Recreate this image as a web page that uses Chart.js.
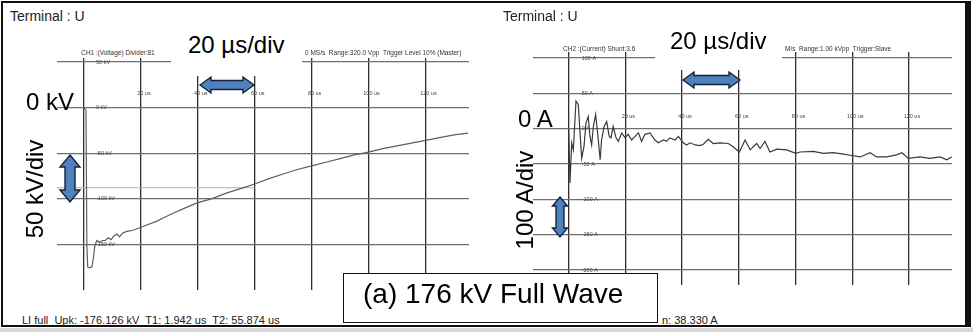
<!DOCTYPE html>
<html>
<head>
<meta charset="utf-8">
<script src="https://cdn.jsdelivr.net/npm/chart.js@4/dist/chart.umd.min.js"></script>
<style>
  html, body { margin: 0; padding: 0; background: #fff; }
  #fig { position: relative; width: 973px; height: 332px; overflow: hidden; background: #fff;
         font-family: Arial, "Liberation Sans", sans-serif; }
  .frame { position: absolute; left: 1px; top: 1px; width: 962px; height: 322px;
           border: 2px solid #111; border-right-width: 6px; }
  .bottomband { position: absolute; left: 0; top: 328px; width: 973px; height: 4px; background: #d8d8d8; }
  .plot { position: absolute; }
  .t { position: absolute; white-space: nowrap; color: #000; line-height: 1; }
  .small { color: #333; }
  .rot { transform: translate(-50%, -50%) rotate(-90deg); }
  .mask { position: absolute; background: #fff; }
  .caption { position: absolute; left: 343px; top: 273px; width: 313px; height: 48px;
             border: 1.5px solid #111; background: #fff; }
  svg { position: absolute; left: 0; top: 0; }
</style>
</head>
<body>
<div id="fig">
  <div class="frame"></div>
  <div class="bottomband"></div>

  <div class="plot" style="left:57px;top:58px;width:412px;height:232px;">
    <canvas id="voltChart" width="412" height="232"></canvas>
  </div>
  <div class="plot" style="left:533px;top:52px;width:419px;height:233px;">
    <canvas id="currChart" width="419" height="233"></canvas>
  </div>

  <!-- white backing behind the time-scale notes -->
  <div class="mask" style="left:171px;top:22px;width:131px;height:54px;"></div>
  <div class="mask" style="left:655px;top:18px;width:127px;height:52px;"></div>

  <div class="t" style="left:10px;top:9px;font-size:14px;color:#222;">Terminal : U</div>
  <div class="t" style="left:503px;top:9px;font-size:14px;color:#222;">Terminal : U</div>

  <div class="t" style="left:188px;top:33px;font-size:24px;">20 µs/div</div>
  <div class="t" style="left:670px;top:29px;font-size:24px;">20 µs/div</div>

  <div class="t" style="left:26px;top:90px;font-size:24px;">0 kV</div>
  <div class="t" style="left:518px;top:107px;font-size:24px;">0 A</div>

  <div class="t rot" style="left:35px;top:189px;font-size:24px;">50 kV/div</div>
  <div class="t rot" style="left:525px;top:200px;font-size:24px;">100 A/div</div>

  <!-- scope header lines -->
  <div class="t small" style="left:81px;top:50px;font-size:6.5px;">CH1 :(Voltage) Divider:81</div>
  <div class="t small" style="left:305px;top:50px;font-size:6.5px;">0 MS/s&nbsp; Range:320.0 Vpp&nbsp; Trigger Level 10% (Master)</div>
  <div class="t small" style="left:563px;top:46px;font-size:6.5px;">CH2 :(Current) Shunt:3.6</div>
  <div class="t small" style="left:785px;top:46px;font-size:6.5px;">M/s&nbsp; Range:1.00 kVpp&nbsp; Trigger:Slave</div>

  <div class="t small" style="left:22px;top:315px;font-size:11px;color:#222;">LI full&nbsp; Upk: -176.126 kV&nbsp; T1: 1.942 us&nbsp; T2: 55.874 us</div>
  <div class="t small" style="left:662px;top:315px;font-size:11px;color:#222;">n: 38.330 A</div>

  <svg width="973" height="332" viewBox="0 0 973 332">
    <g fill="#4F81BD" stroke="#14213d" stroke-width="1.4" stroke-linejoin="miter">
      <!-- horizontal double arrows -->
      <polygon points="200,85 211,77 211,80.5 243,80.5 243,77 254,85 243,93 243,89.5 211,89.5 211,93"/>
      <polygon points="683,80 694,72 694,75.5 729,75.5 729,72 740,80 729,88 729,84.5 694,84.5 694,88"/>
      <!-- vertical double arrows -->
      <polygon points="70,155 80,167 75,167 75,190 80,190 70,202 60,190 65,190 65,167 60,167"/>
      <polygon points="560,197 567.5,206 564,206 564,228 567.5,228 560,237 552.5,228 556,228 556,206 552.5,206"/>
    </g>
  </svg>

  <div class="caption"></div>
  <div class="t" style="left:363px;top:280px;font-size:28px;">(a) 176 kV Full Wave</div>
</div>

<script>
// Time divisions (µs) shared by both records
const timeTicks = [0, 20, 40, 60, 80, 100, 120];
// Vertical divisions
const voltTicks = [50, 0, -50, -100, -150];          // kV
const currTicks = [100, 50, 0, -50, -100, -150, -200]; // A

// Voltage record: lightning impulse, full wave
const peakKV = -176.126;
const voltTime = [0, 0.7, 1.0, 1.3, 1.942, 2.8, 3.3, 3.8, 4.5, 5.5,
                  6.5, 7.5, 8.5, 9.5, 10.5, 11.5, 12.5, 13.5, 15, 17,
                  19.6, 22, 25.5, 28, 31.3, 35, 39.5, 45, 50, 55,
                  60, 65, 70, 75, 80, 85, 90, 95, 100, 105,
                  110, 115, 120, 125, 130, 135];
const voltKV = [0, -3, -150, -175, peakKV, -175, -165, -152, -146, -148,
                -146, -146, -143, -145, -141, -139, -142, -138, -136, -135,
                -132, -129, -125, -121, -116, -111, -105, -100, -94, -89,
                -84, -78, -73, -68, -64, -60, -56, -52, -49, -45,
                -42, -39, -36, -33, -30, -28];
// Half-value marker level
const halfKV = peakKV / 2;
const halfSpan = [-9.5, 60];

// Current record
const currTime = [0, 0.46, 1.05, 1.64, 2.57, 3.4, 4.0, 4.58, 5.4, 6.1,
                  6.9, 7.5, 8.1, 8.7, 9.5, 10.2, 11.1, 11.6, 12.5, 13.4,
                  14.3, 14.9, 15.7, 16.7, 17.5, 18.7, 19.9, 21.0, 22.2, 23.4,
                  24.6, 25.7, 26.9, 28.7, 30.4, 31.6, 33.4, 34.5, 35.7, 37.5,
                  38.7, 40.4, 41.6, 42.8, 44.6, 46.3, 47.5, 49.2, 51.0, 53.4,
                  56.3, 58.1, 60.2, 62.2, 64, 66.3, 67.5, 69.2, 71, 73.4,
                  76.9, 80.1, 81.6, 86.3, 89.8, 93.3, 96.9, 99.9, 102.8, 106.3,
                  108.6, 112.2, 115.7, 117.5, 119.8, 123.9, 127.4, 131, 133.3, 135.1];
const currA = [0, -77, -20, -30, 39, 34, -6, -42, -25, 8,
               17, -11, -23, 3, 20, -6, -44, -16, 3, 10,
               -11, -13, 3, -13, -18, -6, -13, -8, -16, -11,
               -6, -18, -8, -6, -16, -20, -16, -18, -13, -16,
               -11, -20, -23, -20, -23, -24, -22, -15, -21, -20,
               -21, -26, -33, -16, -30, -21, -28, -18, -33, -29,
               -30, -35, -33, -32, -35, -34, -36, -38, -40, -34,
               -40, -40, -37, -34, -42, -40, -42, -40, -44, -40];

const toPoints = (xs, ys) => xs.map((x, i) => ({ x, y: ys[i] }));

// Tiny scope-style labels on the graticule
const graticuleLabels = {
  id: 'graticuleLabels',
  afterDraw(chart, args, opts) {
    const { ctx, scales: { x, y } } = chart;
    ctx.save();
    ctx.fillStyle = '#444';
    ctx.font = '5.5px Arial';
    ctx.textBaseline = 'middle';
    ctx.textAlign = 'center';
    timeTicks.forEach(v => {
      if (v === 0) return;
      ctx.fillText(v + ' us', x.getPixelForValue(v) + 3, y.getPixelForValue(opts.timeLabelLevel));
    });
    ctx.textAlign = 'left';
    opts.levels.forEach(v => {
      ctx.fillText(v + ' ' + opts.unit, x.getPixelForValue(0) + opts.levelDx, y.getPixelForValue(v));
    });
    ctx.restore();
  }
};

function scopeChart(id, cfg) {
  return new Chart(document.getElementById(id), {
    type: 'line',
    data: { datasets: cfg.datasets },
    options: {
      responsive: false,
      animation: false,
      devicePixelRatio: 1,
      layout: { padding: 0, autoPadding: false },
      plugins: {
        legend: { display: false },
        tooltip: { enabled: false },
        graticuleLabels: cfg.labels
      },
      elements: { point: { radius: 0 }, line: { tension: 0 } },
      scales: {
        x: {
          type: 'linear', min: cfg.xMin, max: cfg.xMax,
          afterBuildTicks: s => { s.ticks = timeTicks.map(v => ({ value: v })); },
          ticks: { display: false },
          grid: { color: '#2f2f2f', lineWidth: 1.3, drawTicks: false },
          border: { display: false }
        },
        y: {
          type: 'linear', min: cfg.yMin, max: cfg.yMax,
          afterBuildTicks: s => { s.ticks = cfg.yTicks.map(v => ({ value: v })); },
          ticks: { display: false },
          grid: { color: '#6e6e6e', lineWidth: 1.2, drawTicks: false },
          border: { display: false }
        }
      }
    },
    plugins: [graticuleLabels]
  });
}

scopeChart('voltChart', {
  xMin: -9.49, xMax: 135.3, yMin: -200.4, yMax: 54.5,
  yTicks: voltTicks,
  labels: { levels: voltTicks, unit: 'kV', levelDx: 12, timeLabelLevel: 16 },
  datasets: [
    { data: toPoints(voltTime, voltKV), borderColor: '#5e5e5e', borderWidth: 1.2 },
    { data: toPoints(halfSpan, [halfKV, halfKV]), borderColor: '#b0b0b0', borderWidth: 1 }
  ]
});

scopeChart('currChart', {
  xMin: -12.59, xMax: 135.2, yMin: -221.2, yMax: 108.5,
  yTicks: currTicks,
  labels: { levels: currTicks, unit: 'A', levelDx: 13, timeLabelLevel: 17 },
  datasets: [
    { data: toPoints(currTime, currA), borderColor: '#3a3a3a', borderWidth: 1.2 }
  ]
});
</script>
</body>
</html>
